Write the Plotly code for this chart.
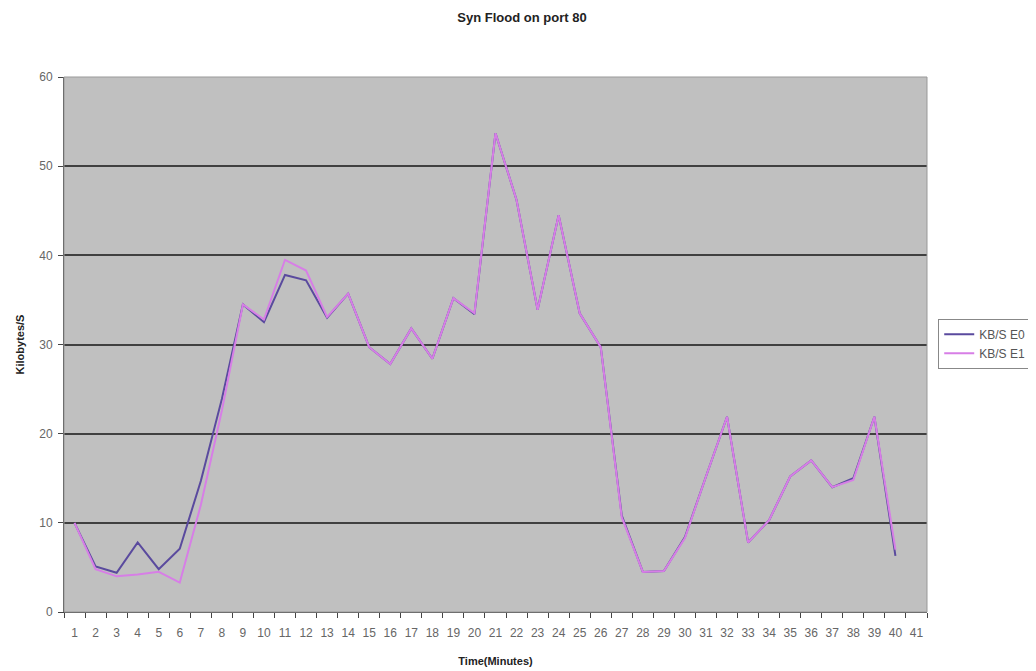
import plotly.graph_objects as go

minutes = list(range(1, 42))
tick_labels = [str(m) for m in minutes]
kbs_e0 = [10.0, 5.1, 4.4, 7.8, 4.8, 7.1, 14.7, 23.9, 34.5, 32.5, 37.8, 37.2, 33.0, 35.7, 29.7,
          27.8, 31.8, 28.4, 35.2, 33.4, 53.7, 46.2, 33.9, 44.5, 33.5, 29.7, 10.8, 4.5, 4.6, 8.4,
          15.2, 21.9, 7.8, 10.3, 15.2, 17.0, 14.0, 15.0, 21.9, 6.3]
kbs_e1 = [10.0, 4.8, 4.0, 4.2, 4.5, 3.3, 12.0, 22.6, 34.5, 32.8, 39.5, 38.3, 33.1, 35.7, 29.7,
          27.8, 31.8, 28.4, 35.2, 33.5, 53.7, 46.2, 33.9, 44.5, 33.5, 29.7, 10.6, 4.5, 4.6, 8.3,
          15.2, 21.9, 7.8, 10.3, 15.2, 17.0, 14.0, 14.8, 21.9, 7.0]
y_ticks = [0, 10, 20, 30, 40, 50, 60]

fig = go.Figure()
fig.add_trace(go.Scatter(x=minutes[:len(kbs_e0)], y=kbs_e0, mode="lines", name="KB/S E0",
                         line=dict(color="#5a4a9e", width=2)))
fig.add_trace(go.Scatter(x=minutes[:len(kbs_e1)], y=kbs_e1, mode="lines", name="KB/S E1",
                         line=dict(color="#d77ee6", width=2)))

fig.update_layout(
    width=1028, height=663,
    margin=dict(l=56, r=109, t=69, b=59, autoexpand=False),
    paper_bgcolor="white", plot_bgcolor="#c0c0c0",
    font=dict(family="Liberation Sans, Arial, sans-serif", color="#555555", size=11),
    title=dict(text="<b>Syn Flood on port 80</b>", x=0.5, xanchor="center", y=0.992, yanchor="top",
               font=dict(size=13, color="#222222")),
    showlegend=True,
    legend=dict(x=1.013, y=0.548, xanchor="left", yanchor="top", bgcolor="white",
                bordercolor="#888888", borderwidth=1, font=dict(size=12, color="#555555"),
                tracegroupgap=2, itemwidth=30),
    xaxis=dict(range=[0.5, 41.5], tickmode="array", tickvals=minutes, ticktext=tick_labels,
               ticks="", showgrid=False, zeroline=False, showline=True, linecolor="#444444",
               linewidth=1, tickfont=dict(size=12, color="#666666"), ticklabelstandoff=10,
               automargin=False,
               minor=dict(tickmode="array", tickvals=[m - 0.5 for m in minutes] + [41.5],
                          ticks="outside", ticklen=5, tickcolor="#444444", showgrid=False),
               title=dict(text="<b>Time(Minutes)</b>", font=dict(size=11, color="#222222"), standoff=17)),
    yaxis=dict(range=[0, 60], tickvals=y_ticks, ticks="outside", ticklen=5, tickcolor="#444444",
               showgrid=True, gridcolor="#404040", gridwidth=1.5, zeroline=False, showline=True,
               linecolor="#444444", linewidth=1, tickfont=dict(size=12, color="#666666"),
               ticklabelstandoff=3, automargin=False,
               title=dict(text="<b>Kilobytes/S</b>", font=dict(size=11, color="#222222"), standoff=12)),
    shapes=[dict(type="rect", xref="paper", yref="paper", x0=0, x1=1, y0=0, y1=1,
                 line=dict(color="#999999", width=1), fillcolor="rgba(0,0,0,0)", layer="above")],
)

fig.write_html("out.html")
